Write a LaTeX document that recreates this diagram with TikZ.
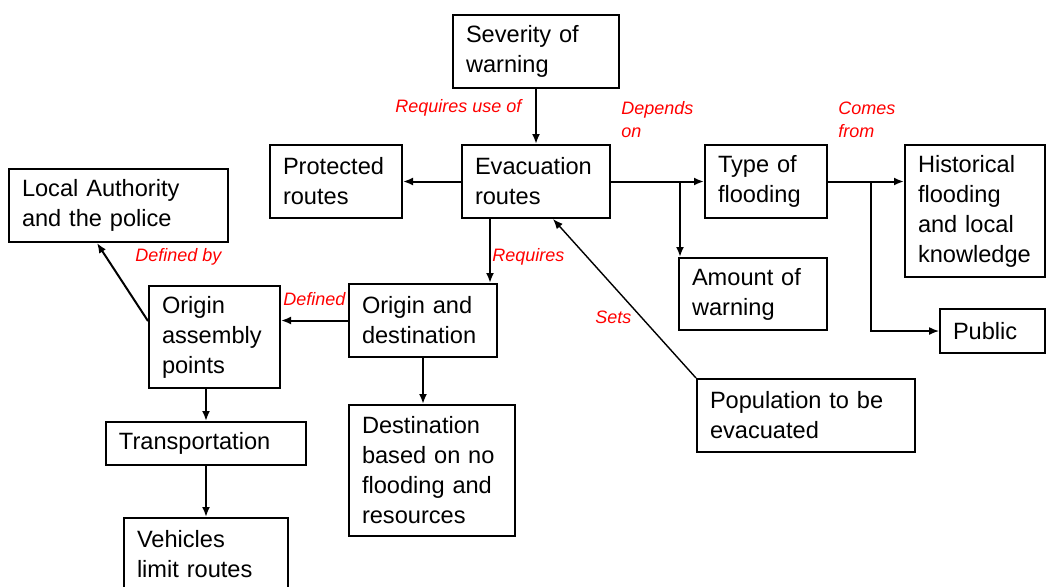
\documentclass[tikz,border=0pt]{standalone}
\usepackage{fontspec}
\setmainfont{Liberation Sans}
\usepackage{tikz}
\usetikzlibrary{arrows.meta,positioning}

\begin{document}
\begin{tikzpicture}[x=0.5pt,y=-0.5pt,
    blk/.style={draw,line width=1pt,anchor=north west,align=left,inner xsep=6.5pt,inner ysep=0pt,font=\fontsize{11.8}{15}\selectfont},
    lbl/.style={text=red,anchor=west,align=left,inner sep=0pt,font=\fontsize{9}{11.5}\selectfont\itshape},
    arr/.style={-{Latex[length=5pt,width=4pt]},line width=1pt}]
	  % Fix the page
	  \useasboundingbox (0,0) rectangle (1046,586);
	  \clip (0,0) rectangle (1046,586);
	  % Draw the boxes
	  \node[blk,text width=70pt,minimum height=36.5pt] (sev) at (452,14) {Severity of\\warning};
	  \node[blk,text width=61pt,minimum height=36.5pt] (evac) at (461,144) {Evacuation\\routes};
	  \node[blk,text width=53pt,minimum height=36.5pt] (prot) at (269,144) {Protected\\routes};
	  \node[blk,text width=96.5pt,minimum height=36.5pt] (local) at (8,168) {Local Authority\\and the police};
	  \node[blk,text width=52.5pt,minimum height=51pt] (oap) at (148,285) {Origin\\assembly\\points};
	  \node[blk,text width=61pt,minimum height=36.5pt] (ond) at (348,283) {Origin and\\destination};
	  \node[blk,text width=87pt,minimum height=21.5pt] (trans) at (105,421) {Transportation};
	  \node[blk,text width=69pt,minimum height=36.5pt] (veh) at (123,517) {Vehicles\\limit routes};
	  \node[blk,text width=70pt,minimum height=65.5pt] (dest) at (348,404) {Destination\\based on no\\flooding and\\resources};
	  \node[blk,text width=48pt,minimum height=36.5pt] (type) at (704,144) {Type of\\flooding};
	  \node[blk,text width=57pt,minimum height=66pt] (hist) at (904,144) {Historical\\flooding\\and local\\knowledge};
	  \node[blk,text width=61pt,minimum height=36pt] (amt) at (678,257) {Amount of\\warning};
	  \node[blk,text width=39.5pt,minimum height=22pt] (pub) at (939,308) {Public};
	  \node[blk,text width=96pt,minimum height=36.5pt] (pop) at (696,378) {Population to be\\evacuated};
	  % Red labels
	  \node[lbl] (usel) at (395,108) {Requires use of};
	  \node[lbl] (depl) at (621,119.5) {Depends\\on};
	  \node[lbl] (coml) at (838,120) {Comes\\from};
	  \node[lbl] (reql) at (492,257) {Requires};
	  \node[lbl] (defbyl) at (135,257) {Defined by};
	  \node[lbl] (defl) at (283,299) {Defined};
	  \node[lbl] (setsl) at (595,317) {Sets};
	  % Draw the connectors
	  \draw[arr] (sev.south) -- (evac.north);
	  \draw[arr] (evac.west) -- (prot.east);
	  \draw[arr] ([xshift=-4pt]evac.south -| ond.north east) -- ([xshift=-4pt]ond.north east);
	  \draw[arr] (evac.east) -- (type.west);
	  \draw[arr] ([xshift=1pt]evac.east -| amt.north west) -- ([xshift=1pt]amt.north west);
	  \draw[arr] (type.east) -- (type.east -| hist.west);
	  \draw[arr,line width=0.7pt] ([xshift=21.5pt]type.east) |- (pub.west);
	  \draw[arr,line width=0.7pt] (pop.north west) -- ([xshift=8.5pt]evac.south);
	  \draw[arr] (ond.west) -- (ond.west -| oap.east);
	  \draw[arr] ([yshift=8pt]oap.west) -- ([xshift=44.5pt]local.south west);
	  \draw[arr] (oap.south -| trans.north) -- (trans.north);
	  \draw[arr] (trans.south) -- (veh.north);
	  \draw[arr] (ond.south) -- (ond.south |- dest.north);
      \end{tikzpicture}
\end{document}
